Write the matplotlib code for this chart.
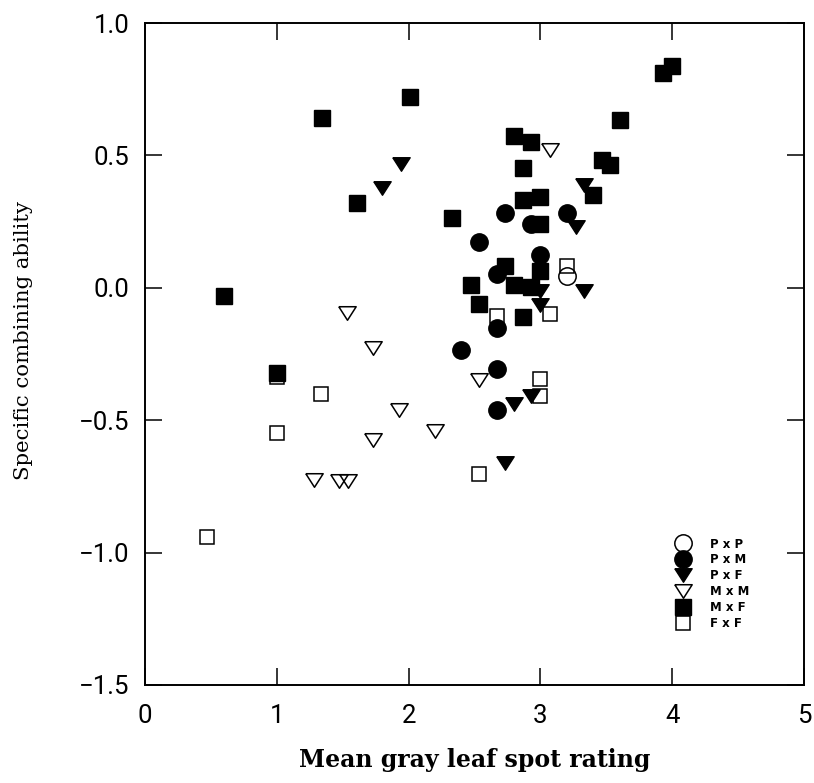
import matplotlib
matplotlib.use('Agg')
import matplotlib.pyplot as plt
from matplotlib.lines import Line2D

# Mean gray leaf spot rating (x) and specific combining ability (y), per cross type
pxp_x = [3.20]
pxp_y = [0.043]

pxm_x = [2.40, 2.53, 2.67, 2.67, 2.67, 2.67, 2.73, 2.93, 3.00, 3.20]
pxm_y = [-0.235, 0.172, 0.052, -0.15, -0.305, -0.46, 0.281, 0.241, 0.124, 0.281]

pxf_x = [1.80, 1.94, 2.73, 2.80, 2.93, 3.00, 3.00, 3.27, 3.33, 3.33]
pxf_y = [0.376, 0.466, -0.66, -0.44, -0.41, -0.011, -0.065, 0.228, 0.39, -0.011]

mxm_x = [1.53, 1.73, 1.93, 1.73, 2.20, 1.28, 1.47, 1.54, 2.53, 3.07]
mxm_y = [-0.094, -0.226, -0.46, -0.573, -0.54, -0.725, -0.73, -0.73, -0.35, 0.519]

mxf_x = [0.60, 1.00, 1.34, 1.61, 2.01, 2.33, 2.47, 2.53, 2.73, 2.80, 2.80, 2.87, 2.87,
         2.87, 2.93, 2.93, 3.00, 3.00, 3.00, 3.40, 3.47, 3.53, 3.60, 3.93, 4.00]
mxf_y = [-0.03, -0.32, 0.64, 0.32, 0.72, 0.262, 0.011, -0.06, 0.083, 0.572, 0.011, 0.452, 0.332,
         -0.109, 0.552, 0.004, 0.342, 0.241, 0.064, 0.352, 0.484, 0.462, 0.633, 0.81, 0.837]

fxf_x = [0.47, 1.00, 1.00, 1.335, 2.53, 2.67, 3.00, 3.00, 3.07, 3.20]
fxf_y = [-0.94, -0.335, -0.55, -0.40, -0.705, -0.106, -0.346, -0.41, -0.10, 0.083]

x_ticks = [0, 1, 2, 3, 4, 5]
y_ticks = [-1.5, -1.0, -0.5, 0.0, 0.5, 1.0]
y_tick_labels = ['\u22121.5', '\u22121.0', '\u22120.5', '0.0', '0.5', '1.0']
legend_labels = ['P x P', 'P x M', 'P x F', 'M x M', 'M x F', 'F x F']

# flattened downward triangle, like the original plot symbols
tri = [(-1, 0.78), (1, 0.78), (0, -0.78), (-1, 0.78)]

fig = plt.figure(figsize=(8.14, 7.83), dpi=100)
ax = fig.add_axes([0.178, 0.1252, 0.81, 0.8454])

open_kw = dict(linestyle='none', markerfacecolor='none', markeredgecolor='black', markeredgewidth=1.1)
fill_kw = dict(linestyle='none', color='black')

ax.plot(fxf_x, fxf_y, marker='s', markersize=10.5, **open_kw)
ax.plot(mxf_x, mxf_y, marker='s', markersize=11, **fill_kw)
ax.plot(pxm_x, pxm_y, marker='o', markersize=12.5, **fill_kw)
ax.plot(pxf_x, pxf_y, marker=tri, markersize=12.5, **fill_kw)
ax.plot(mxm_x, mxm_y, marker=tri, markersize=12.5, **open_kw)
ax.plot(pxp_x, pxp_y, marker='o', markersize=12.5, **open_kw)

ax.set_xlim(0, 5)
ax.set_ylim(-1.5, 1.0)
ax.set_xticks(x_ticks)
ax.set_yticks(y_ticks)
ax.set_yticklabels(y_tick_labels)

for s in ax.spines.values():
    s.set_linewidth(1.4)
ax.tick_params(direction='in', length=12, width=1.1, top=True, right=True)
ax.tick_params(axis='x', pad=14)
ax.tick_params(axis='y', pad=11)
for lab in ax.get_xticklabels() + ax.get_yticklabels():
    lab.set_fontfamily('Roboto')
    lab.set_fontweight('normal')
    lab.set_fontsize(18.5)

ax.set_xlabel('Mean gray leaf spot rating', fontfamily='DejaVu Serif', fontweight='bold', fontsize=17)
ax.xaxis.set_label_coords(0.5, -0.095)
ax.set_ylabel('Specific combining ability', fontfamily='DejaVu Serif', fontsize=15.3)
ax.yaxis.set_label_coords(-0.17, 0.521)

handles = [
    Line2D([], [], marker='o', markersize=12.5, **open_kw),
    Line2D([], [], marker='o', markersize=12.5, **fill_kw),
    Line2D([], [], marker=tri, markersize=12.5, **fill_kw),
    Line2D([], [], marker=tri, markersize=12.5, **open_kw),
    Line2D([], [], marker='s', markersize=11, **fill_kw),
    Line2D([], [], marker='s', markersize=10.5, **open_kw),
]
leg = ax.legend(handles, legend_labels, loc='upper left', bbox_to_anchor=(0.8265, 0.3135),
                bbox_transform=fig.transFigure, frameon=False, borderpad=0, borderaxespad=0,
                handlelength=1.8, handletextpad=1.35, labelspacing=0.25,
                prop=dict(family='DejaVu Sans', weight='bold', size=8.5))

fig.savefig('out.png', dpi=100)
